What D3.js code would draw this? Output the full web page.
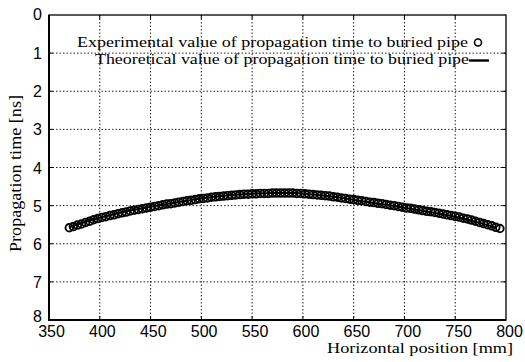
<!DOCTYPE html>
<html>
<head>
<meta charset="utf-8">
<script src="https://cdn.jsdelivr.net/npm/d3@7"></script>
<style>
  body { margin: 0; background: #fff; }
  svg { display: block; }
</style>
</head>
<body>
<div id="chart"></div>
<script>
// measured propagation times (circles)
const expX = [370,374,378,382,386,390,394,398,402,406,410,414,418,422,426,430,434,438,442,446,
  450,454,458,462,466,470,474,478,482,486,490,494,498,502,506,510,514,518,522,526,
  530,534,538,542,546,550,554,558,562,566,570,574,578,582,586,590,594,598,602,606,
  610,614,618,622,626,630,634,638,642,646,650,654,658,662,666,670,674,678,682,686,
  690,694,698,702,706,710,714,718,722,726,730,734,738,742,746,750,754,758,762,766,
  770,774,778,782,786,790,794];
const expT = [5.58,5.55,5.51,5.48,5.44,5.41,5.37,5.34,5.31,5.29,5.26,5.24,5.21,5.19,5.17,5.14,5.12,5.10,5.08,5.06,
  5.04,5.02,5.00,4.98,4.96,4.95,4.93,4.91,4.89,4.87,4.86,4.84,4.82,4.81,4.80,4.78,4.77,4.76,4.75,4.74,
  4.73,4.72,4.71,4.70,4.70,4.69,4.69,4.68,4.68,4.68,4.67,4.67,4.67,4.67,4.67,4.67,4.68,4.68,4.69,4.70,
  4.71,4.72,4.73,4.74,4.75,4.77,4.78,4.80,4.81,4.83,4.84,4.86,4.87,4.89,4.91,4.92,4.94,4.95,4.97,4.99,
  5.00,5.02,5.04,5.06,5.07,5.09,5.11,5.13,5.15,5.16,5.18,5.20,5.22,5.24,5.26,5.28,5.30,5.33,5.35,5.38,
  5.41,5.44,5.47,5.50,5.53,5.57,5.60];

// theoretical curve (line)
const theoX = [370,390,410,430,450,470,490,510,530,550,570,590,610,630,650,670,690,710,730,750,770,790];
const theoT = [5.57,5.39,5.25,5.13,5.03,4.94,4.85,4.78,4.72,4.69,4.67,4.67,4.71,4.77,4.85,4.93,5.01,5.10,5.19,5.29,5.42,5.58];

const xTicks = [350,400,450,500,550,600,650,700,750,800];
const yTicks = [0,1,2,3,4,5,6,7,8];
const legendLabels = ["Experimental value of propagation time to buried pipe",
                      "Theoretical value of propagation time to buried pipe"];
const xTitle = "Horizontal position [mm]";
const yTitle = "Propagation time [ns]";

const W = 525, H = 362;
const margin = {left: 49, right: 506, top: 15, bottom: 320};

const svg = d3.select("#chart").append("svg")
    .attr("width", W)
    .attr("height", H);

const x = d3.scaleLinear().domain([350, 800]).range([margin.left, margin.right]);
const y = d3.scaleLinear().domain([0, 8]).range([margin.top, margin.bottom]);
// tick labels in the scan sit slightly right of the grid
const xLab = d3.scaleLinear().domain([350, 800]).range([51, 509]);

// grid
const grid = svg.append("g").attr("stroke", "#222").attr("stroke-width", 1)
    .attr("stroke-dasharray", "1.5,2");
grid.selectAll(".gx").data(xTicks.slice(1, -1)).join("line")
    .attr("x1", d => x(d)).attr("x2", d => x(d))
    .attr("y1", margin.top).attr("y2", margin.bottom);
grid.selectAll(".gy").data(yTicks.slice(1, -1)).join("line")
    .attr("x1", margin.left).attr("x2", margin.right)
    .attr("y1", d => y(d)).attr("y2", d => y(d));

// frame
svg.append("rect")
    .attr("x", margin.left).attr("y", margin.top)
    .attr("width", margin.right - margin.left).attr("height", margin.bottom - margin.top)
    .attr("fill", "none").attr("stroke", "#000").attr("stroke-width", 1.3);
svg.append("path")
    .attr("d", `M${margin.left},${margin.top}V${margin.bottom}H${margin.right}`)
    .attr("fill", "none").attr("stroke", "#000").attr("stroke-width", 2);

// inward ticks on all four sides
const tk = svg.append("g").attr("stroke", "#000").attr("stroke-width", 1);
xTicks.slice(1, -1).forEach(d => {
    tk.append("line").attr("x1", x(d)).attr("x2", x(d)).attr("y1", margin.bottom).attr("y2", margin.bottom - 4);
    tk.append("line").attr("x1", x(d)).attr("x2", x(d)).attr("y1", margin.top).attr("y2", margin.top + 4);
});
yTicks.slice(1, -1).forEach(d => {
    tk.append("line").attr("x1", margin.left).attr("x2", margin.left + 4).attr("y1", y(d)).attr("y2", y(d));
    tk.append("line").attr("x1", margin.right).attr("x2", margin.right - 4).attr("y1", y(d)).attr("y2", y(d));
});

// tick labels through d3 axes
const xAxis = svg.append("g")
    .attr("transform", `translate(0,${margin.bottom})`)
    .call(d3.axisBottom(xLab).tickValues(xTicks).tickSize(0).tickPadding(0));
xAxis.select(".domain").remove();
xAxis.selectAll("text")
    .attr("y", 16.5).attr("dy", 0)
    .attr("font-family", "'Liberation Sans', Arial, sans-serif")
    .attr("font-size", 16).attr("fill", "#000");

const yAxis = svg.append("g")
    .attr("transform", `translate(${margin.left},0)`)
    .call(d3.axisLeft(y).tickValues(yTicks).tickSize(0).tickPadding(0));
yAxis.select(".domain").remove();
yAxis.selectAll("text")
    .attr("x", -7)
    .attr("dy", d => d === 8 ? "0.1em" : (d === 0 ? "0.25em" : "0.35em"))
    .attr("font-family", "'Liberation Sans', Arial, sans-serif")
    .attr("font-size", 16).attr("fill", "#000");

// theoretical line
const line = d3.line()
    .x((d, i) => x(theoX[i]))
    .y(d => y(d))
    .curve(d3.curveMonotoneX);
svg.append("path")
    .datum(theoT)
    .attr("d", line)
    .attr("fill", "none")
    .attr("stroke", "#000")
    .attr("stroke-width", 2);

// experimental circles
svg.append("g").selectAll("circle")
    .data(expT)
    .join("circle")
    .attr("cx", (d, i) => x(expX[i]))
    .attr("cy", d => y(d))
    .attr("r", 3.8)
    .attr("fill", "none")
    .attr("stroke", "#000")
    .attr("stroke-width", 1.9);

// legend
const serif = "'Liberation Serif', 'Times New Roman', serif";
const leg = svg.append("g").attr("font-family", serif).attr("font-size", 15).attr("fill", "#000");
leg.append("text").attr("x", 77).attr("y", 47)
    .attr("textLength", 391).attr("lengthAdjust", "spacingAndGlyphs")
    .text(legendLabels[0]);
leg.append("text").attr("x", 95).attr("y", 64)
    .attr("textLength", 374).attr("lengthAdjust", "spacingAndGlyphs")
    .text(legendLabels[1]);
svg.append("circle").attr("cx", 478).attr("cy", 42.5).attr("r", 3.5)
    .attr("fill", "none").attr("stroke", "#000").attr("stroke-width", 1.6);
svg.append("line").attr("x1", 469).attr("x2", 489).attr("y1", 60.5).attr("y2", 60.5)
    .attr("stroke", "#000").attr("stroke-width", 2.4);

// axis titles
svg.append("text")
    .attr("x", 327).attr("y", 353)
    .attr("textLength", 186).attr("lengthAdjust", "spacingAndGlyphs")
    .attr("font-family", serif).attr("font-size", 15.5)
    .text(xTitle);
svg.append("text")
    .attr("transform", `translate(20.5,252) rotate(-90)`)
    .attr("textLength", 157).attr("lengthAdjust", "spacingAndGlyphs")
    .attr("font-family", serif).attr("font-size", 16)
    .text(yTitle);
</script>
</body>
</html>
